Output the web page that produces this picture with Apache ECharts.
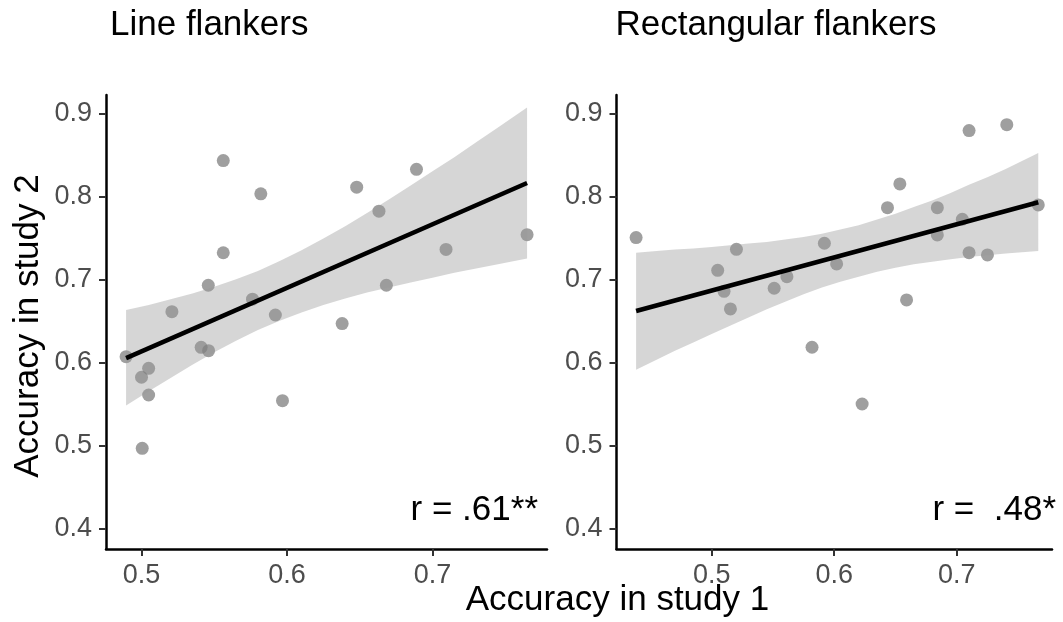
<!DOCTYPE html>
<html>
<head>
<meta charset="utf-8">
<script src="https://cdn.jsdelivr.net/npm/echarts@6/dist/echarts.min.js"></script>
<style>
  html, body { margin: 0; padding: 0; background: #fff; }
  #chart { width: 1063px; height: 622px; }
</style>
</head>
<body>
<div id="chart"></div>
<script>
// Line flankers: study 1 vs study 2 accuracy
var leftX = [0.4894, 0.5, 0.5049, 0.5049, 0.5005, 0.5209, 0.541, 0.5461, 0.5459, 0.5562, 0.5562,
  0.5763, 0.582, 0.592, 0.5969, 0.6379, 0.6479, 0.6632, 0.6683, 0.689, 0.7093, 0.765]
var leftY = [0.6068, 0.582, 0.5928, 0.5606, 0.4964, 0.661, 0.618, 0.614, 0.6928, 0.732, 0.843,
  0.676, 0.803, 0.657, 0.5538, 0.6466, 0.811, 0.782, 0.6928, 0.8325, 0.736, 0.7538]
var leftFitX = [0.4894, 0.765]
var leftFitY = [0.605, 0.816]
var leftBandX = [0.4894, 0.505, 0.52, 0.535, 0.55, 0.565, 0.58, 0.595, 0.61, 0.625, 0.64, 0.655, 0.67, 0.685, 0.70, 0.715, 0.73, 0.745, 0.765]
var leftBandUpper = [0.663, 0.669, 0.676, 0.683, 0.691, 0.700, 0.710, 0.722, 0.735, 0.749, 0.764, 0.780, 0.796, 0.813, 0.830, 0.847, 0.865, 0.883, 0.907]
var leftBandLower = [0.548, 0.565, 0.581, 0.597, 0.612, 0.626, 0.639, 0.650, 0.660, 0.669, 0.677, 0.684, 0.690, 0.696, 0.702, 0.708, 0.713, 0.718, 0.725]

// Rectangular flankers
var rightX = [0.4383, 0.5049, 0.5101, 0.5153, 0.5202, 0.551, 0.5614, 0.5819, 0.592, 0.602, 0.6228,
  0.6435, 0.6536, 0.6591, 0.6842, 0.6842, 0.7046, 0.7101, 0.7101, 0.7251, 0.7409, 0.7666]
var rightY = [0.7502, 0.7108, 0.6855, 0.6643, 0.7361, 0.6892, 0.7032, 0.6181, 0.7434, 0.7185, 0.5498,
  0.7863, 0.8149, 0.6751, 0.7863, 0.7534, 0.7723, 0.8791, 0.7321, 0.7293, 0.8863, 0.7896]
var rightFitX = [0.4383, 0.7666]
var rightFitY = [0.6618, 0.7928]
var rightBandX = [0.4383, 0.455, 0.47, 0.485, 0.50, 0.515, 0.53, 0.545, 0.56, 0.575, 0.59, 0.605, 0.62, 0.635, 0.65, 0.665, 0.68, 0.695, 0.71, 0.725, 0.74, 0.7666]
var rightBandUpper = [0.732, 0.734, 0.736, 0.737, 0.739, 0.741, 0.743, 0.745, 0.748, 0.751, 0.755, 0.760, 0.765, 0.772, 0.779, 0.787, 0.795, 0.804, 0.814, 0.823, 0.833, 0.852]
var rightBandLower = [0.591, 0.603, 0.614, 0.624, 0.634, 0.644, 0.654, 0.664, 0.673, 0.682, 0.690, 0.697, 0.703, 0.709, 0.714, 0.718, 0.721, 0.724, 0.727, 0.729, 0.731, 0.734]

var xTicks = [0.5, 0.6, 0.7]
var yTicks = [0.4, 0.5, 0.6, 0.7, 0.8, 0.9]

var FONT = '"Liberation Sans", Arial, Helvetica, sans-serif'

function zip(a, b) {
  return a.map(function (v, i) { return [v, b[i]] })
}

function bandSeries(idx, bx, lo, hi) {
  return {
    type: 'custom',
    xAxisIndex: idx,
    yAxisIndex: idx,
    z: 3,
    silent: true,
    data: bx.map(function (v, i) { return [v, lo[i], hi[i]] }),
    encode: { x: 0, y: [1, 2] },
    renderItem: function (params, api) {
      if (params.dataIndex !== 0) return
      var pts = []
      for (var i = 0; i < bx.length; i++) pts.push(api.coord([bx[i], hi[i]]))
      for (var j = bx.length - 1; j >= 0; j--) pts.push(api.coord([bx[j], lo[j]]))
      return {
        type: 'polygon',
        shape: { points: pts },
        style: { fill: 'rgba(153,153,153,0.4)' }
      }
    }
  }
}

function xAxisFor(idx, min, max) {
  return {
    type: 'value',
    gridIndex: idx,
    min: min,
    max: max,
    splitLine: { show: false },
    axisLine: { onZero: false, lineStyle: { color: '#000', width: 2.5 } },
    axisTick: { customValues: xTicks, length: 7, lineStyle: { color: '#333', width: 2 } },
    axisLabel: {
      customValues: xTicks,
      margin: 13,
      color: '#4d4d4d',
      fontSize: 27,
      fontFamily: FONT,
      formatter: function (v) { return v.toFixed(1) }
    }
  }
}

function yAxisFor(idx) {
  return {
    type: 'value',
    gridIndex: idx,
    min: 0.3751,
    max: 0.922,
    splitLine: { show: false },
    axisLine: { onZero: false, lineStyle: { color: '#000', width: 2.5 } },
    axisTick: { customValues: yTicks, length: 7, lineStyle: { color: '#333', width: 2 } },
    axisLabel: {
      customValues: yTicks,
      margin: 14,
      color: '#4d4d4d',
      fontSize: 27,
      fontFamily: FONT,
      formatter: function (v) { return v.toFixed(1) }
    }
  }
}

function pointSeries(idx, xs, ys) {
  return {
    type: 'scatter',
    xAxisIndex: idx,
    yAxisIndex: idx,
    z: 2,
    symbolSize: 13,
    itemStyle: { color: 'rgba(105,105,105,0.8)' },
    data: zip(xs, ys)
  }
}

function fitSeries(idx, xs, ys) {
  return {
    type: 'line',
    xAxisIndex: idx,
    yAxisIndex: idx,
    z: 4,
    symbol: 'none',
    lineStyle: { color: '#000', width: 4.5 },
    data: zip(xs, ys)
  }
}

var chart = echarts.init(document.getElementById('chart'), null, { renderer: 'canvas' })
chart.setOption({
  animation: false,
  backgroundColor: '#fff',
  grid: [
    { left: 106, top: 95, width: 441, height: 454 },
    { left: 616.5, top: 95, width: 435.5, height: 454 }
  ],
  xAxis: [xAxisFor(0, 0.4756, 0.7787), xAxisFor(1, 0.4223, 0.7778)],
  yAxis: [yAxisFor(0), yAxisFor(1)],
  series: [
    pointSeries(0, leftX, leftY),
    bandSeries(0, leftBandX, leftBandLower, leftBandUpper),
    fitSeries(0, leftFitX, leftFitY),
    pointSeries(1, rightX, rightY),
    bandSeries(1, rightBandX, rightBandLower, rightBandUpper),
    fitSeries(1, rightFitX, rightFitY)
  ],
  graphic: [
    { type: 'text', x: 110, y: 25, style: { text: 'Line flankers', font: '35px ' + FONT, fill: '#000', verticalAlign: 'middle' } },
    { type: 'text', x: 615.5, y: 25, style: { text: 'Rectangular flankers', font: '35px ' + FONT, fill: '#000', verticalAlign: 'middle' } },
    { type: 'text', x: 617.5, y: 600, style: { text: 'Accuracy in study 1', font: '35px ' + FONT, fill: '#000', align: 'center', verticalAlign: 'middle' } },
    { type: 'text', x: 28, y: 326, rotation: Math.PI / 2, style: { text: 'Accuracy in study 2', font: '35px ' + FONT, fill: '#000', align: 'center', verticalAlign: 'middle' } },
    { type: 'text', x: 538, y: 510, style: { text: 'r = .61**', font: '35px ' + FONT, fill: '#000', align: 'right', verticalAlign: 'middle' } },
    { type: 'text', x: 1056, y: 510, style: { text: 'r =  .48*', font: '35px ' + FONT, fill: '#000', align: 'right', verticalAlign: 'middle' } }
  ]
})
</script>
</body>
</html>
